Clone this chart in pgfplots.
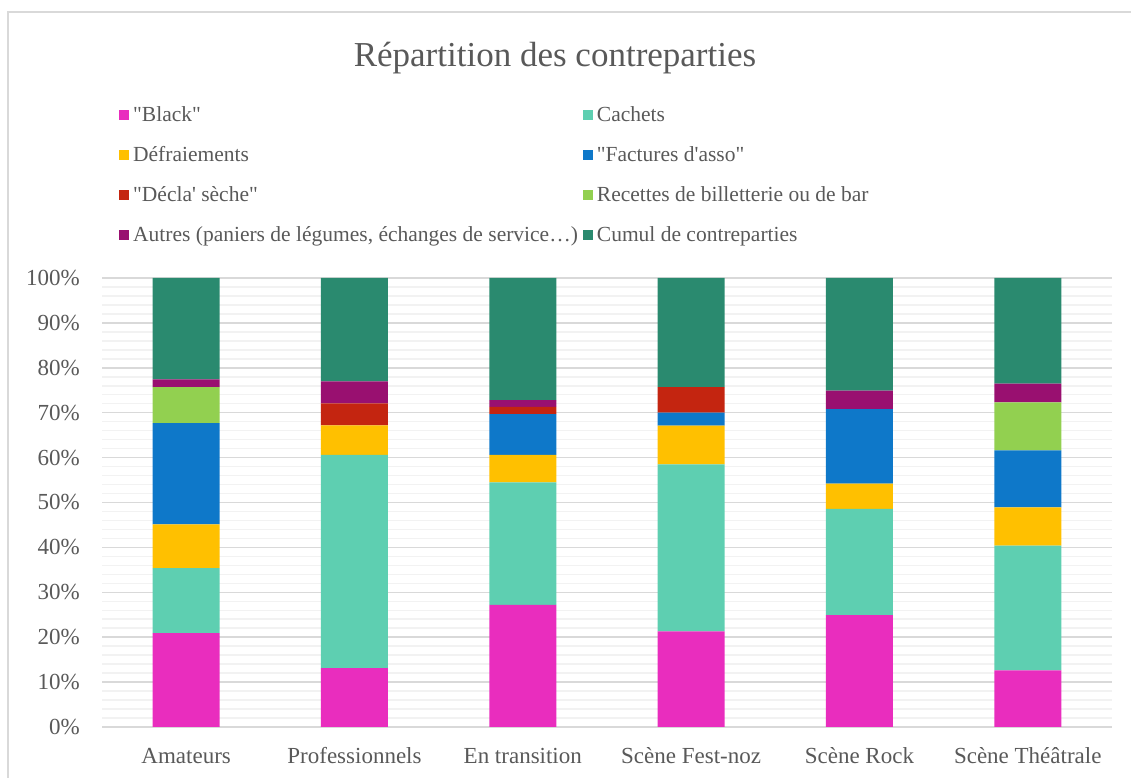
\documentclass[border=0pt]{standalone}
\usepackage{fontspec}
\setmainfont{Liberation Serif}[Ligatures=TeXOff]
\usepackage{pgfplots}
\pgfplotsset{compat=1.18}
\usepackage{pgfplotstable}

\definecolor{cBlack}{HTML}{E92DBE}
\definecolor{cCachets}{HTML}{5ECFB1}
\definecolor{cDefr}{HTML}{FFC000}
\definecolor{cFact}{HTML}{0E78C9}
\definecolor{cDecla}{HTML}{C42510}
\definecolor{cRecettes}{HTML}{92D050}
\definecolor{cAutres}{HTML}{991070}
\definecolor{cCumul}{HTML}{2A8A6F}
\definecolor{txt}{HTML}{595959}
\definecolor{gmaj}{HTML}{D9D9D9}
\definecolor{gmin}{HTML}{F2F2F2}

% parts in %, one row per category
\pgfplotstableread{
x black cachets defr fact decla recettes autres cumul
0 20.9 14.5 9.7 22.6 0   8.0  1.7 22.6
1 13.1 47.5 6.6 0    4.9 0    4.9 23.0
2 27.2 27.3 6.1 9.1  1.6 0    1.5 27.2
3 21.3 37.2 8.6 2.9  5.7 0    0   24.3
4 24.9 23.7 5.6 16.6 0   0    4.1 25.1
5 12.6 27.8 8.5 12.7 0   10.7 4.2 23.5
}\contre

\begin{document}
\begin{tikzpicture}[x=1pt,y=1pt]
\useasboundingbox (0,0) rectangle (1131,778);
\draw[gmaj, line width=1.5pt] (8,0) -- (8,766) -- (1131,766);
\node[anchor=base, font=\fontsize{35}{40}\selectfont, text=txt] at (555,711.3) {Répartition des contreparties};
\begin{axis}[
  at={(102pt,51pt)}, anchor=south west,
  width=1010pt, height=449pt, scale only axis,
  ybar stacked, bar width=67pt,
  xmin=-0.5, xmax=5.5, ymin=0, ymax=100,
  xtick={0,...,5},
  xticklabels={Amateurs,Professionnels,En transition,Scène Fest-noz,Scène Rock,Scène Théâtrale},
  ytick={0,10,...,100},
  yticklabels={0\%,10\%,20\%,30\%,40\%,50\%,60\%,70\%,80\%,90\%,100\%},
  minor y tick num=4,
  ymajorgrids, yminorgrids,
  major grid style={gmaj, line width=1.5pt},
  minor grid style={gmin, line width=1.5pt},
  axis line style={draw=none},
  tick style={draw=none},
  xticklabel style={font=\fontsize{23}{27}\selectfont, text=txt, anchor=base, inner sep=0pt, yshift=-36.3pt},
  yticklabel style={font=\fontsize{23}{27}\selectfont, text=txt, anchor=east, inner sep=0pt, xshift=-22pt},
  legend columns=2,
  legend cell align=left,
  legend style={at={(0.0168,1.3927)}, anchor=north west, draw=none, fill=none, inner sep=0pt,
    font=\fontsize{21.5}{25}\selectfont, text=txt,
    nodes={inner sep=2pt, text height=18pt, text depth=4.6pt},
    row sep=13.4pt,
    /tikz/every odd column/.append style={column sep=2pt},
    /tikz/every even column/.append style={column sep=3pt}},
  every axis plot post/.append style={legend image code/.code={\fill[##1] (0pt,-5pt) rectangle (10pt,5pt);}},
]
\addplot[fill=cBlack, draw=none] table[x=x, y=black] {\contre};
\addlegendentry{"Black"}
\addplot[fill=cCachets, draw=none] table[x=x, y=cachets] {\contre};
\addlegendentry{Cachets}
\addplot[fill=cDefr, draw=none] table[x=x, y=defr] {\contre};
\addlegendentry{Défraiements}
\addplot[fill=cFact, draw=none] table[x=x, y=fact] {\contre};
\addlegendentry{"Factures d'asso"}
\addplot[fill=cDecla, draw=none] table[x=x, y=decla] {\contre};
\addlegendentry{"Décla' sèche"}
\addplot[fill=cRecettes, draw=none] table[x=x, y=recettes] {\contre};
\addlegendentry{Recettes de billetterie ou de bar}
\addplot[fill=cAutres, draw=none] table[x=x, y=autres] {\contre};
\addlegendentry{Autres (paniers de légumes, échanges de service…)}
\addplot[fill=cCumul, draw=none] table[x=x, y=cumul] {\contre};
\addlegendentry{Cumul de contreparties}
\end{axis}
\end{tikzpicture}
\end{document}
